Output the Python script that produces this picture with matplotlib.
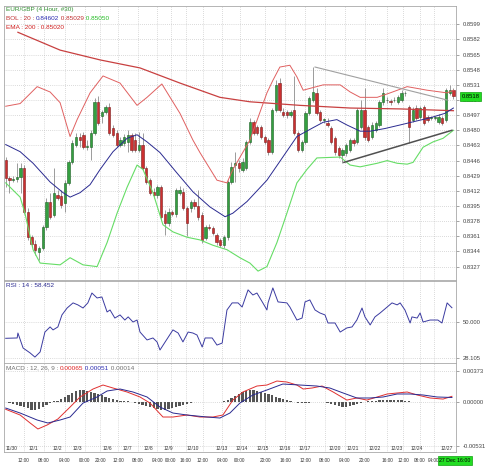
import matplotlib
matplotlib.use("Agg")
import matplotlib.pyplot as plt
import matplotlib.transforms as mtransforms
import numpy as np

plt.rcParams['font.family'] = ['Liberation Sans', 'DejaVu Sans']

# 4 hour candles, EUR/GBP
opens = [0.8447, 0.8426, 0.8424, 0.8425, 0.8428, 0.8438, 0.8388, 0.8360, 0.8352, 0.8343,
         0.8348, 0.8371, 0.8400, 0.8385, 0.8407, 0.8406, 0.8398, 0.8421, 0.8444, 0.8464,
         0.8473, 0.8475, 0.8461, 0.8461, 0.8477, 0.8512, 0.8496, 0.8501, 0.8506, 0.8483,
         0.8477, 0.8464, 0.8466, 0.8467, 0.8475, 0.8469, 0.8458, 0.8464, 0.8438, 0.8424,
         0.8411, 0.8407, 0.8416, 0.8386, 0.8376, 0.8388, 0.8386, 0.8410, 0.8411, 0.8393,
         0.8393, 0.8400, 0.8395, 0.8385, 0.8359, 0.8371, 0.8370, 0.8363, 0.8357, 0.8351,
         0.8360, 0.8422, 0.8441, 0.8443, 0.8436, 0.8438, 0.8467, 0.8489, 0.8484, 0.8484,
         0.8473, 0.8469, 0.8456, 0.8503, 0.8533, 0.8501, 0.8501, 0.8497, 0.8503, 0.8477,
         0.8458, 0.8467, 0.8499, 0.8514, 0.8522, 0.8501, 0.8492, 0.8488, 0.8483, 0.8471,
         0.8460, 0.8452, 0.8455, 0.8458, 0.8469, 0.8467, 0.8484, 0.8503, 0.8484, 0.8473,
         0.8480, 0.8486, 0.8512, 0.8514, 0.8513, 0.8514, 0.8512, 0.8514, 0.8522, 0.8506,
         0.8492, 0.8505, 0.8495, 0.8506, 0.8495, 0.8494, 0.8494, 0.8489, 0.8494, 0.8492,
         0.8522, 0.8525]
closes = [0.8426, 0.8424, 0.8425, 0.8428, 0.8438, 0.8388, 0.8360, 0.8352, 0.8346, 0.8348,
          0.8371, 0.8400, 0.8383, 0.8410, 0.8404, 0.8396, 0.8421, 0.8444, 0.8466, 0.8473,
          0.8469, 0.8461, 0.8462, 0.8477, 0.8512, 0.8488, 0.8501, 0.8506, 0.8477, 0.8475,
          0.8464, 0.8469, 0.8473, 0.8475, 0.8458, 0.8458, 0.8464, 0.8438, 0.8422, 0.8410,
          0.8407, 0.8416, 0.8383, 0.8376, 0.8388, 0.8386, 0.8413, 0.8413, 0.8393, 0.8376,
          0.8400, 0.8395, 0.8383, 0.8357, 0.8371, 0.8370, 0.8365, 0.8355, 0.8351, 0.8360,
          0.8422, 0.8439, 0.8443, 0.8438, 0.8444, 0.8467, 0.8489, 0.8477, 0.8477, 0.8473,
          0.8467, 0.8456, 0.8503, 0.8531, 0.8503, 0.8497, 0.8497, 0.8501, 0.8477, 0.8458,
          0.8467, 0.8499, 0.8516, 0.8523, 0.8499, 0.8492, 0.8492, 0.8486, 0.8467, 0.8456,
          0.8452, 0.8458, 0.8464, 0.8469, 0.8466, 0.8503, 0.8503, 0.8473, 0.8469, 0.8486,
          0.8488, 0.8512, 0.8522, 0.8514, 0.8512, 0.8514, 0.8517, 0.8522, 0.8522, 0.8484,
          0.8503, 0.8494, 0.8505, 0.8488, 0.8492, 0.8494, 0.8494, 0.8495, 0.8488, 0.8525,
          0.8525, 0.8518]
highs = [0.8450, 0.8429, 0.8429, 0.8443, 0.8443, 0.8441, 0.8393, 0.8363, 0.8357, 0.8350,
         0.8374, 0.8404, 0.8410, 0.8438, 0.8413, 0.8413, 0.8424, 0.8447, 0.8469, 0.8477,
         0.8477, 0.8478, 0.8469, 0.8480, 0.8516, 0.8519, 0.8503, 0.8508, 0.8511, 0.8486,
         0.8480, 0.8473, 0.8476, 0.8480, 0.8477, 0.8477, 0.8478, 0.8477, 0.8440, 0.8426,
         0.8415, 0.8419, 0.8419, 0.8391, 0.8393, 0.8391, 0.8415, 0.8417, 0.8415, 0.8395,
         0.8402, 0.8403, 0.8413, 0.8388, 0.8374, 0.8375, 0.8373, 0.8365, 0.8359, 0.8363,
         0.8424, 0.8444, 0.8456, 0.8447, 0.8449, 0.8469, 0.8494, 0.8492, 0.8486, 0.8486,
         0.8475, 0.8471, 0.8505, 0.8536, 0.8539, 0.8505, 0.8503, 0.8503, 0.8541, 0.8479,
         0.8469, 0.8502, 0.8519, 0.8551, 0.8527, 0.8503, 0.8494, 0.8494, 0.8485, 0.8474,
         0.8462, 0.8460, 0.8466, 0.8471, 0.8471, 0.8505, 0.8514, 0.8527, 0.8486, 0.8489,
         0.8490, 0.8514, 0.8527, 0.8517, 0.8515, 0.8517, 0.8520, 0.8525, 0.8524, 0.8508,
         0.8506, 0.8508, 0.8507, 0.8508, 0.8497, 0.8496, 0.8496, 0.8498, 0.8496, 0.8527,
         0.8531, 0.8527]
lows = [0.8416, 0.8410, 0.8422, 0.8422, 0.8410, 0.8386, 0.8357, 0.8349, 0.8340, 0.8335,
        0.8346, 0.8368, 0.8380, 0.8383, 0.8402, 0.8393, 0.8388, 0.8419, 0.8442, 0.8461,
        0.8461, 0.8459, 0.8458, 0.8447, 0.8475, 0.8486, 0.8488, 0.8498, 0.8475, 0.8473,
        0.8461, 0.8461, 0.8462, 0.8456, 0.8456, 0.8456, 0.8456, 0.8436, 0.8420, 0.8407,
        0.8404, 0.8404, 0.8380, 0.8363, 0.8373, 0.8384, 0.8383, 0.8407, 0.8391, 0.8361,
        0.8388, 0.8392, 0.8379, 0.8354, 0.8357, 0.8368, 0.8363, 0.8351, 0.8349, 0.8348,
        0.8357, 0.8420, 0.8422, 0.8433, 0.8433, 0.8436, 0.8465, 0.8475, 0.8475, 0.8470,
        0.8465, 0.8452, 0.8453, 0.8501, 0.8501, 0.8495, 0.8494, 0.8495, 0.8475, 0.8456,
        0.8456, 0.8465, 0.8497, 0.8512, 0.8497, 0.8489, 0.8488, 0.8484, 0.8465, 0.8452,
        0.8449, 0.8443, 0.8451, 0.8456, 0.8462, 0.8465, 0.8482, 0.8469, 0.8467, 0.8470,
        0.8478, 0.8484, 0.8508, 0.8511, 0.8508, 0.8512, 0.8510, 0.8512, 0.8519, 0.8466,
        0.8489, 0.8492, 0.8493, 0.8486, 0.8489, 0.8492, 0.8492, 0.8487, 0.8486, 0.8489,
        0.8520, 0.8515]

# Bollinger(20) and EMA(200) at bar positions
bb_up_x = [0, 3.9, 8.5, 12.0, 14.7, 17.4, 19.3, 22.8, 26.3, 30.9, 35.5, 38.2, 42.2, 47.1,
           50.6, 52.5, 57.1, 59.8, 61.4, 66.0, 70.6, 72.2, 74.1, 76.8, 78.7, 80.4, 82.2,
           85.8, 90.4, 93.1, 95.8, 100.4, 103.9, 108.5, 113.9, 119.3, 121]
bb_up = [0.8507, 0.8510, 0.8529, 0.8523, 0.8511, 0.8473, 0.8492, 0.8522, 0.8541, 0.8533,
         0.8508, 0.8517, 0.8532, 0.8499, 0.8469, 0.8455, 0.8424, 0.8421, 0.8436, 0.8469,
         0.8522, 0.8536, 0.8551, 0.8553, 0.8540, 0.8525, 0.8527, 0.8531, 0.8531, 0.8523,
         0.8517, 0.8517, 0.8522, 0.8529, 0.8525, 0.8522, 0.8525]
bb_mid_x = [0, 3.9, 7.4, 12.0, 15.5, 17.4, 20.1, 22.8, 25.5, 29.0, 32.8, 35.5, 38.2, 41.7,
            46.3, 50.6, 55.2, 59.3, 61.4, 65.2, 70.6, 74.9, 78.7, 83.1, 85.8, 89.5, 92.2,
            95.8, 98.5, 102.5, 106.6, 110.6, 114.7, 118.7, 121]
bb_mid = [0.8464, 0.8456, 0.8443, 0.8422, 0.8410, 0.8405, 0.8410, 0.8419, 0.8436, 0.8456,
          0.8471, 0.8475, 0.8467, 0.8455, 0.8432, 0.8411, 0.8394, 0.8383, 0.8387, 0.8400,
          0.8424, 0.8450, 0.8473, 0.8483, 0.8489, 0.8492, 0.8486, 0.8479, 0.8479, 0.8482,
          0.8486, 0.8490, 0.8494, 0.8499, 0.8505]
bb_lo_x = [0, 3.9, 5.2, 7.4, 9.3, 14.7, 17.4, 20.9, 24.7, 27.4, 30.1, 32.8, 35.5, 37.1,
           39.8, 42.5, 45.2, 49.0, 52.5, 56.0, 59.8, 63.3, 66.0, 68.2, 70.6, 73.3, 76.0,
           78.7, 81.4, 84.1, 90.4, 93.1, 95.8, 100.4, 103.1, 105.8, 108.5, 110.1, 112.8,
           115.5, 118.2, 121]
bb_lo = [0.8421, 0.8405, 0.8387, 0.8346, 0.8331, 0.8329, 0.8337, 0.8329, 0.8327, 0.8354,
         0.8387, 0.8416, 0.8441, 0.8436, 0.8410, 0.8374, 0.8366, 0.8360, 0.8357, 0.8351,
         0.8346, 0.8337, 0.8331, 0.8322, 0.8327, 0.8354, 0.8387, 0.8421, 0.8436, 0.8449,
         0.8450, 0.8441, 0.8439, 0.8443, 0.8446, 0.8443, 0.8442, 0.8444, 0.8461, 0.8467,
         0.8471, 0.8480]
ema_x = [3.3, 14.7, 25.5, 36.3, 47.1, 57.9, 66.0, 79.5, 93.1, 106.6, 121]
ema = [0.8590, 0.8570, 0.8559, 0.8550, 0.8533, 0.8517, 0.8512, 0.8508, 0.8505, 0.8504, 0.8502]

# triangle trend lines
tri_up_x = [83.6, 119.3]
tri_up = [0.8551, 0.8514]
tri_lo_x = [91.4, 120.6]
tri_lo = [0.8444, 0.8480]

# RSI(14)
rsi_x = [0, 3.1, 3.3, 4.7, 6.6, 7.9, 9.3, 10.6, 12.0, 12.8, 14.1, 15.2, 16.6, 18.2, 19.5,
         20.9, 22.2, 23.3, 24.7, 26.0, 27.4, 28.2, 29.5, 30.9, 32.2, 33.1, 34.4, 35.5,
         36.3, 38.2, 39.8, 40.9, 41.7, 43.1, 45.2, 46.6, 47.9, 49.3, 50.6, 51.7, 53.1,
         53.9, 55.8, 57.1, 58.5, 59.8, 61.2, 62.8, 63.9, 65.5, 66.8, 67.9, 69.5, 70.6,
         70.9, 72.2, 73.6, 76.0, 76.8, 78.7, 80.1, 80.9, 82.2, 83.6, 84.9, 86.3, 87.1,
         89.0, 90.4, 92.2, 93.6, 94.9, 96.3, 97.1, 98.5, 99.8, 101.2, 103.1, 104.4, 105.8,
         106.6, 107.9, 109.3, 109.8, 111.2, 112.0, 112.8, 114.7, 116.8, 117.9, 119.3, 120.6]
rsi = [39.9, 40.1, 43.1, 34.0, 31.0, 28.5, 31.6, 43.7, 46.8, 45.0, 46.8, 54.1, 58.3, 61.4,
       60.2, 58.3, 61.4, 67.4, 64.4, 65.0, 55.9, 57.1, 52.2, 54.1, 51.0, 52.9, 49.8, 51.0,
       43.7, 38.9, 40.1, 37.7, 32.8, 37.7, 45.0, 43.1, 37.7, 43.7, 43.1, 41.9, 34.6, 40.1,
       40.1, 35.8, 37.0, 57.1, 61.4, 61.4, 58.9, 69.3, 66.2, 67.4, 61.4, 57.1, 61.4, 70.5,
       62.0, 61.4, 58.9, 51.0, 52.2, 62.0, 63.2, 57.1, 55.3, 54.1, 49.2, 49.2, 43.7, 46.2,
       46.8, 51.0, 58.3, 52.9, 48.0, 52.9, 55.3, 58.9, 61.4, 60.2, 61.4, 57.1, 49.2, 52.9,
       52.2, 55.3, 49.8, 51.0, 51.0, 49.2, 61.4, 58.45]

# MACD(12, 26, 9)
macd_x = [0, 3.9, 6.6, 8.7, 11.2, 14.1, 17.4, 20.1, 23.6, 26.3, 29.0, 32.8, 36.3, 39.0,
          42.5, 45.2, 49.0, 52.5, 56.0, 58.7, 61.4, 64.1, 67.9, 70.6, 73.3, 76.0, 78.7,
          80.4, 82.8, 85.5, 88.5, 92.2, 94.9, 97.6, 100.4, 103.1, 105.8, 108.5, 111.2,
          114.7, 118.2, 120.6]
macd = [-0.00091, -0.00160, -0.00256, -0.00328, -0.00280, -0.00208, -0.00064, 0.00057,
        0.00153, 0.00201, 0.00165, 0.00117, 0.00057, -0.00016, -0.00184, -0.00184, -0.00160,
        -0.00184, -0.00184, -0.00160, 0.00020, 0.00117, 0.00189, 0.00201, 0.00249, 0.00237,
        0.00201, 0.00153, 0.00165, 0.00189, 0.00117, 0.00020, 0.00045, 0.00020, 0.00057,
        0.00093, 0.00105, 0.00117, 0.00081, 0.00045, 0.00032, 0.00065]
signal_x = [0, 3.9, 8.5, 11.4, 14.7, 17.4, 20.9, 24.7, 27.4, 30.9, 34.4, 38.2, 41.7, 45.2,
            49.0, 54.4, 57.9, 60.6, 63.3, 66.8, 70.6, 74.9, 79.5, 84.1, 87.6, 91.2, 94.9,
            98.5, 102.0, 105.8, 109.3, 112.8, 116.6, 120.6]
signal = [-0.00076, -0.00136, -0.00220, -0.00256, -0.00220, -0.00184, -0.00016, 0.00057,
          0.00129, 0.00153, 0.00117, 0.00057, -0.00064, -0.00136, -0.00160, -0.00184,
          -0.00196, -0.00136, -0.00016, 0.00081, 0.00141, 0.00213, 0.00201, 0.00189, 0.00165,
          0.00105, 0.00045, 0.00045, 0.00057, 0.00093, 0.00093, 0.00081, 0.00057, 0.00051]
hist = [-0.00006, -0.00012, -0.00024, -0.00036, -0.00048, -0.0006, -0.00072, -0.00096,
        -0.00096, -0.00084, -0.0006, -0.00036, -0.00012, 0.00006, 0.00012, 0.00036, 0.0006,
        0.00084, 0.00108, 0.00132, 0.00144, 0.00144, 0.00132, 0.0012, 0.00108, 0.00096,
        0.00084, 0.0006, 0.00048, 0.00036, 0.00024, 0.00012, 0.00012, 0.00006, -0.00006,
        -0.00012, -0.00024, -0.00036, -0.00048, -0.0006, -0.00072, -0.00084, -0.00096,
        -0.00096, -0.00084, -0.00072, -0.0006, -0.00048, -0.00036, -0.00024, -0.00012,
        -0.00006, -0.00006, -0.00006, -0.00006, -0.00006, -0.00006, -0.00006, -0.00006,
        0.00006, 0.00024, 0.00048, 0.00072, 0.00096, 0.0012, 0.00132, 0.00144, 0.00144,
        0.00132, 0.0012, 0.00108, 0.00096, 0.00084, 0.0006, 0.00048, 0.00036, 0.00024,
        0.00012, -0.00006, -0.00018, -0.00018, -0.00018, -0.00012, -0.00006, -0.00006,
        -0.00006, -0.00006, -0.00012, -0.00024, -0.00036, -0.00048, -0.0006, -0.0006,
        -0.00048, -0.00036, -0.00024, -0.00012, -0.00006, 0.00006, 0.00006, 0.00012,
        0.00024, 0.00024, 0.00024, 0.00024, 0.00024, 0.00024, 0.00018, 0.00012, 0.00006,
        -0.00006, -0.00006, -0.00006, -0.00006, -0.00006, -0.00006, -0.00006, -0.00006,
        -0.00006, -0.00006, -0.00006, -0.00006]

price_ticks = [0.8327, 0.8344, 0.8361, 0.8378, 0.8395, 0.8412, 0.8429, 0.8446, 0.8463,
               0.8480, 0.8497, 0.8514, 0.8531, 0.8548, 0.8565, 0.8582, 0.8599]
rsi_ticks = [28.105, 50.0]
macd_ticks = [-0.00531, 0.0, 0.00373]

day_pos = [1.7, 7.4, 13.9, 19.5, 27.4, 32.8, 38.5, 43.9, 50.6, 58.5, 63.9, 69.5, 75.5,
           80.9, 89.0, 93.9, 99.8, 105.8, 111.2, 119.3]
day_labels = ['11/30', '12/1', '12/2', '12/3', '12/6', '12/7', '12/8', '12/9', '12/10',
              '12/13', '12/14', '12/15', '12/16', '12/17', '12/20', '12/21', '12/22',
              '12/23', '12/24', '12/27']
hour_pos = [4.9, 10.4, 16.0, 21.4, 25.5, 30.4, 35.8, 41.0, 44.6, 48.6, 53.3, 58.5, 63.3,
            70.1, 75.5, 80.9, 86.3, 91.7, 97.1, 103.1, 107.4, 112.0, 115.7]
hour_labels = ['12:00', '08:00', '04:00', '00:00', '20:00', '12:00', '08:00', '04:00',
               '00:00', '16:00', '12:00', '04:00', '00:00', '20:00', '16:00', '12:00',
               '08:00', '04:00', '20:00', '16:00', '12:00', '08:00', '04:00']

W, H = 500, 469
fig = plt.figure(figsize=(W / 100, H / 100), dpi=100)
fig.patch.set_facecolor('white')


def box(x0, y0, x1, y1):
    return [x0 / W, 1 - y1 / H, (x1 - x0) / W, (y1 - y0) / H]


ax = fig.add_axes(box(4, 6, 456, 280))
ax_rsi = fig.add_axes(box(4, 281, 456, 363))
ax_macd = fig.add_axes(box(4, 363, 456, 452))

FS = 4.2


def style(a, ticks, labels):
    a.set_xlim(-0.46, 121.7)
    a.yaxis.tick_right()
    a.set_yticks(ticks)
    a.set_yticklabels(labels)
    a.tick_params(axis='y', length=2, width=0.5, color='#808080', labelsize=FS,
                  pad=3, labelcolor='#444444')
    a.set_xticks(hour_pos)
    a.tick_params(axis='x', length=0, labelbottom=False)
    a.grid(True, color='#b8b8b8', ls=(0, (1, 2)), lw=0.5)
    a.set_axisbelow(True)
    for s in a.spines.values():
        s.set_color('#a8a8a8')
        s.set_linewidth(0.6)


# --- price panel
o = np.array(opens)
c = np.array(closes)
idx = np.arange(len(c))
up = c >= o
ax.vlines(idx, lows, highs, color='#8c8c8c', lw=0.6, zorder=2)
body = np.maximum(np.abs(c - o), 0.00004)
ax.bar(idx, body, bottom=np.minimum(o, c), width=0.62,
       color=np.where(up, '#34a040', '#cc3030'),
       edgecolor=np.where(up, '#1e5e26', '#7a1c1c'), linewidth=0.4, zorder=3)

ax.plot(ema_x, ema, color='#c84040', lw=0.9, zorder=4)
ax.plot(bb_up_x, bb_up, color='#e06060', lw=0.7, zorder=4)
ax.plot(bb_mid_x, bb_mid, color='#2a2a90', lw=0.7, zorder=4)
ax.plot(bb_lo_x, bb_lo, color='#66dd66', lw=0.8, zorder=4)
ax.plot(tri_up_x, tri_up, color='#a0a0a0', lw=0.8, zorder=5)
ax.plot(tri_lo_x, tri_lo, color='#505050', lw=1.1, zorder=5)

ax.set_ylim(0.83120, 0.86195)
style(ax, price_ticks, ['%.4f' % t for t in price_ticks])

ax.annotate('%.4f' % closes[-1], xy=(1, closes[-1]), xycoords=('axes fraction', 'data'),
            xytext=(3.8, 0), textcoords='offset points', ha='left', va='center',
            fontsize=FS, color='black', annotation_clip=False,
            bbox=dict(boxstyle='square,pad=0.3', fc='#22dd22', ec='#10a010', lw=0.5))

ax.text(0.004, 0.996, 'EUR/GBP (4 Hour, #30)', transform=ax.transAxes, color='#2e8e2e',
        fontsize=4.6, va='top', ha='left')
t = ax.text(0.004, 0.965, 'BOL : 20 : ', transform=ax.transAxes, color='#c03030',
            fontsize=4.6, va='top', ha='left')
for txt, col in [('0.84602', '#2a2ab0'), (' 0.85029', '#c03030'), (' 0.85050', '#22bb22')]:
    t = ax.annotate(txt, xy=(1, 0), xycoords=t, va='bottom', ha='left', fontsize=4.6,
                    color=col)
ax.text(0.004, 0.932, 'EMA : 200 : 0.85020', transform=ax.transAxes, color='#d02020',
        fontsize=4.6, va='top', ha='left')

# --- RSI panel
ax_rsi.plot(rsi_x, rsi, color='#3a3aa0', lw=0.7)
ax_rsi.set_ylim(24.9, 74.7)
style(ax_rsi, rsi_ticks, ['28.105', '50.000'])
ax_rsi.text(0.004, 0.97, 'RSI : 14 : 58.452', transform=ax_rsi.transAxes, color='#2a2a90',
            fontsize=4.6, va='top', ha='left')

# --- MACD panel
ax_macd.bar(idx, hist, width=0.6, color='#555555', zorder=2)
ax_macd.plot(macd_x, macd, color='#e03030', lw=0.7, zorder=3)
ax_macd.plot(signal_x, signal, color='#2a2a90', lw=0.7, zorder=3)
ax_macd.set_ylim(-0.00605, 0.00466)
style(ax_macd, macd_ticks, ['-0.00531', '0.00000', '0.00373'])
t = ax_macd.text(0.004, 0.97, 'MACD : 12, 26, 9 : ', transform=ax_macd.transAxes,
                 color='#707070', fontsize=4.6, va='top', ha='left')
for txt, col in [('0.00065', '#e02020'), (' 0.00051', '#2a2ab0'), (' 0.00014', '#707070')]:
    t = ax_macd.annotate(txt, xy=(1, 0), xycoords=t, va='bottom', ha='left', fontsize=4.6,
                         color=col)

trans = mtransforms.blended_transform_factory(ax_macd.transData, ax_macd.transAxes)
for p, lab in zip(day_pos, day_labels):
    ax_macd.text(p, 0.04, lab, transform=trans, ha='center', va='center', fontsize=3.5,
                 color='#333333', clip_on=False)
for p, lab in zip(hour_pos, hour_labels):
    ax_macd.text(p, -0.09, lab, transform=trans, ha='center', va='center', fontsize=3.4,
                 color='#333333', clip_on=False)

fig.text(455 / W, 1 - 460.5 / H, '27 Dec 16:00', ha='center', va='center',
         fontsize=3.8, color='black',
         bbox=dict(boxstyle='square,pad=0.3', fc='#22dd22', ec='#10a010', lw=0.5))

fig.savefig('out.png', dpi=100, facecolor='white')
